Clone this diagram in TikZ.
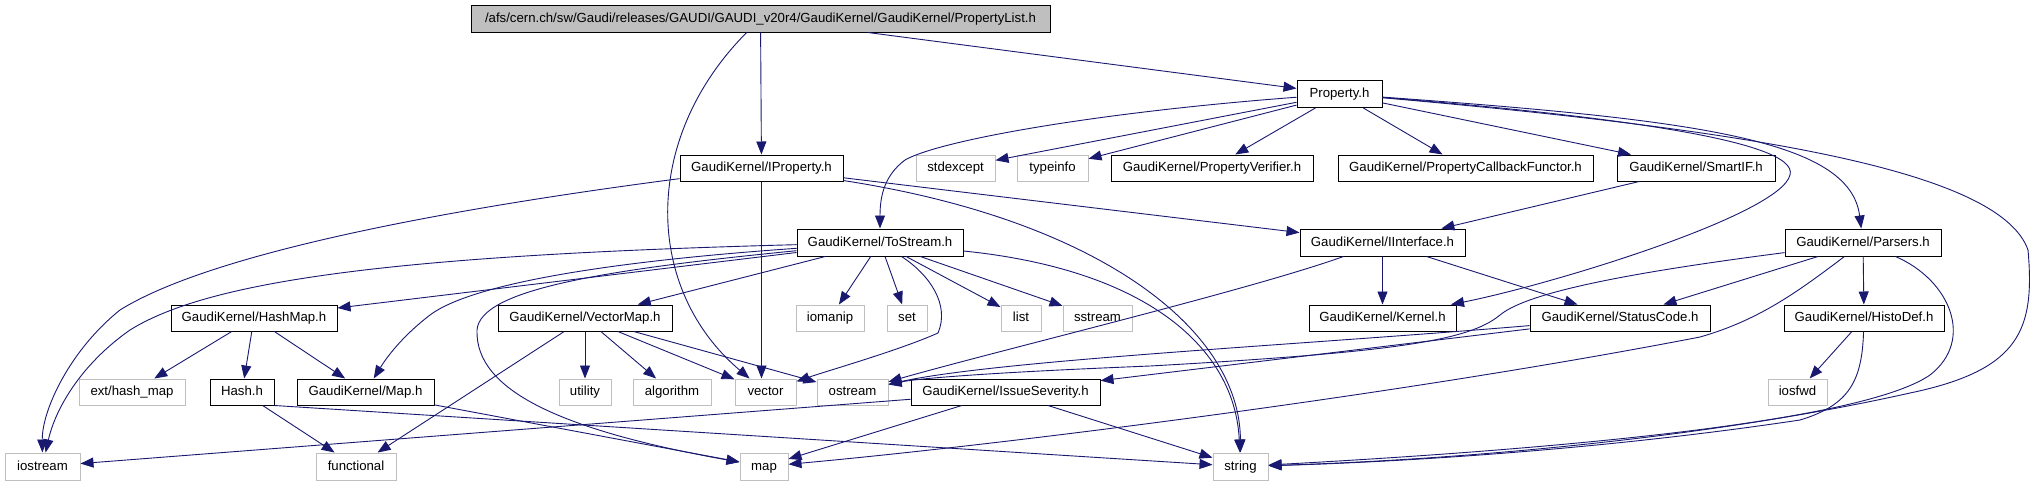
\documentclass[tikz,border=0pt]{standalone}
\usepackage{fontspec}
\setmainfont{Liberation Sans}
\usetikzlibrary{arrows.meta}
\definecolor{edgeblue}{HTML}{191970}
\definecolor{sysgray}{HTML}{BFBFBF}
\begin{document}
\begin{tikzpicture}[x=1pt,y=-1pt,
  box/.style={draw=black,line width=1pt,inner sep=0pt,minimum height=26pt,
    text height=9.5pt,text depth=2.5pt,font=\fontsize{13.2}{15}\selectfont},
  sys/.style={box,draw=sysgray},
  rootbox/.style={box,fill=sysgray,minimum height=27pt},
  edge/.style={draw=edgeblue,line width=0.9pt,-{Triangle[length=13pt,width=10pt]}}]
\useasboundingbox (0,0) rectangle (2036,485);
% row 0
\node[rootbox,minimum width=579pt] (root) at (760.5,18.5) {/afs/cern.ch/sw/Gaudi/releases/GAUDI/GAUDI\_v20r4/GaudiKernel/GaudiKernel/PropertyList.h};
% row 1
\node[box,minimum width=85pt,minimum height=27pt] (prop) at (1339.5,94) {Property.h};
% row 2
\node[box,minimum width=163pt] (iprop) at (761.5,168) {GaudiKernel/IProperty.h};
\node[sys,minimum width=79pt] (stdexcept) at (955.5,168) {stdexcept};
\node[sys,minimum width=71pt] (typeinfo) at (1052.5,168) {typeinfo};
\node[box,minimum width=202pt] (pverif) at (1212,168) {GaudiKernel/PropertyVerifier.h};
\node[box,minimum width=255pt] (pcf) at (1465.5,168) {GaudiKernel/PropertyCallbackFunctor.h};
\node[box,minimum width=158pt] (smartif) at (1696,168) {GaudiKernel/SmartIF.h};
% row 3
\node[box,minimum width=166pt,minimum height=27pt] (tostream) at (880,242.5) {GaudiKernel/ToStream.h};
\node[box,minimum width=165pt,minimum height=27pt] (iinterface) at (1382.5,242.5) {GaudiKernel/IInterface.h};
\node[box,minimum width=156pt,minimum height=27pt] (parsers) at (1863,242.5) {GaudiKernel/Parsers.h};
% row 4
\node[box,minimum width=166pt] (hashmap) at (254,318) {GaudiKernel/HashMap.h};
\node[box,minimum width=174pt] (vectormap) at (585,318) {GaudiKernel/VectorMap.h};
\node[sys,minimum width=68pt] (iomanip) at (830,318) {iomanip};
\node[sys,minimum width=40pt] (set) at (907,318) {set};
\node[sys,minimum width=40pt] (list) at (1021,318) {list};
\node[sys,minimum width=69pt] (sstream) at (1097.5,318) {sstream};
\node[box,minimum width=147pt] (kernel) at (1382.5,318) {GaudiKernel/Kernel.h};
\node[box,minimum width=180pt] (statuscode) at (1620,318) {GaudiKernel/StatusCode.h};
\node[box,minimum width=160pt] (histodef) at (1864,318) {GaudiKernel/HistoDef.h};
% row 5
\node[sys,minimum width=106pt] (exthashmap) at (132,392) {ext/hash\_map};
\node[box,minimum width=64pt] (hash) at (242,392) {Hash.h};
\node[box,minimum width=137pt] (maph) at (365.5,392) {GaudiKernel/Map.h};
\node[sys,minimum width=52pt] (utility) at (585,392) {utility};
\node[sys,minimum width=78pt] (algorithm) at (672,392) {algorithm};
\node[sys,minimum width=61pt] (vector) at (765.5,392) {vector};
\node[sys,minimum width=71pt] (ostream) at (852.5,392) {ostream};
\node[box,minimum width=189pt] (issue) at (1005.5,392) {GaudiKernel/IssueSeverity.h};
\node[sys,minimum width=59pt] (iosfwd) at (1797.5,392) {iosfwd};
% row 6
\node[sys,minimum width=75pt,minimum height=27pt] (iostream) at (42.5,466.5) {iostream};
\node[sys,minimum width=80pt,minimum height=27pt] (functional) at (356,466.5) {functional};
\node[sys,minimum width=48pt,minimum height=27pt] (map) at (764,466.5) {map};
\node[sys,minimum width=55pt,minimum height=27pt] (string) at (1240.5,466.5) {string};

% root
\draw[edge] (root) -- (prop);
\draw[edge] (root) -- (iprop);
\draw[edge] (root) .. controls (640,140) and (645,290) .. (vector);
% Property.h
\draw[edge] (prop) .. controls (1100,112) and (940,140) .. (905,160) .. controls (885,175) and (880,195) .. (tostream);
\draw[edge] (prop) -- (stdexcept);
\draw[edge] (prop) -- (typeinfo);
\draw[edge] (prop) -- (pverif);
\draw[edge] (prop) -- (pcf);
\draw[edge] (prop) -- (smartif);
\draw[edge] (prop) .. controls (1600,115) and (1800,140) .. (1790,175) .. controls (1780,215) and (1550,285) .. (kernel);
\draw[edge] (prop) .. controls (1700,120) and (1850,140) .. (parsers);
\draw[edge] (prop) .. controls (1750,130) and (2000,170) .. (2028,250) .. controls (2035,330) and (2020,370) .. (1910,393) .. controls (1700,440) and (1450,460) .. (string);
% IProperty
\draw[edge] (iprop) .. controls (400,215) and (200,260) .. (120,310) .. controls (70,350) and (42,410) .. (iostream);
\draw[edge] (iprop) -- (iprop |- vector.north);
\draw[edge] (iprop) -- (iinterface);
\draw[edge] (iprop) .. controls (1100,220) and (1240,330) .. (string);
% SmartIF
\draw[edge] (smartif) -- (iinterface);
% ToStream
\draw[edge] (tostream) .. controls (400,255) and (210,280) .. (130,330) .. controls (80,365) and (55,410) .. (iostream);
\draw[edge] (tostream) -- (hashmap);
\draw[edge] (tostream) .. controls (600,262) and (470,285) .. (430,315) .. controls (400,338) and (385,360) .. (maph);
\draw[edge] (tostream) .. controls (600,270) and (480,290) .. (477,330) .. controls (475,390) and (560,430) .. (map);
\draw[edge] (tostream) -- (vectormap);
\draw[edge] (tostream) -- (iomanip);
\draw[edge] (tostream) -- (set);
\draw[edge] (tostream) .. controls (930,275) and (950,305) .. (938,333) .. controls (900,350) and (830,370) .. (vector);
\draw[edge] (tostream) -- (list);
\draw[edge] (tostream) -- (sstream);
\draw[edge] (tostream) .. controls (1150,270) and (1235,350) .. (string);
% IInterface
\draw[edge] (iinterface) -- (kernel);
\draw[edge] (iinterface) -- (statuscode);
\draw[edge] (iinterface) .. controls (1250,290) and (1000,350) .. (ostream);
% Parsers
\draw[edge] (parsers) -- (histodef);
\draw[edge] (parsers) -- (statuscode);
\draw[edge] (parsers) .. controls (1650,270) and (1530,290) .. (1500,315) .. controls (1470,340) and (1400,352) .. (1150,366) .. controls (1000,372) and (920,378) .. (ostream);
\draw[edge] (parsers) .. controls (1800,290) and (1760,320) .. (1700,337) .. controls (1400,395) and (1000,445) .. (map);
\draw[edge] (parsers) .. controls (1950,280) and (1975,340) .. (1930,375) .. controls (1850,430) and (1450,455) .. (string);
% StatusCode
\draw[edge] (statuscode) .. controls (1300,345) and (1000,360) .. (ostream);
\draw[edge] (statuscode) -- (issue);
% HistoDef
\draw[edge] (histodef) -- (iosfwd);
\draw[edge] (histodef) .. controls (1862,380) and (1850,405) .. (1800,420) .. controls (1600,450) and (1400,462) .. (string);
% HashMap
\draw[edge] (hashmap) -- (exthashmap);
\draw[edge] (hashmap) -- (hash);
\draw[edge] (hashmap) -- (maph);
% Hash.h
\draw[edge] (hash) -- (functional);
\draw[edge] (hash.south east) -- (string);
% Map.h
\draw[edge] (maph) -- (map);
% VectorMap
\draw[edge] (vectormap) -- (functional);
\draw[edge] (vectormap) -- (utility);
\draw[edge] (vectormap) -- (algorithm);
\draw[edge] (vectormap) -- (vector);
\draw[edge] (vectormap) -- (ostream);
% IssueSeverity
\draw[edge] (issue) -- (iostream);
\draw[edge] (issue) -- (map);
\draw[edge] (issue) -- (string);
\end{tikzpicture}
\end{document}
